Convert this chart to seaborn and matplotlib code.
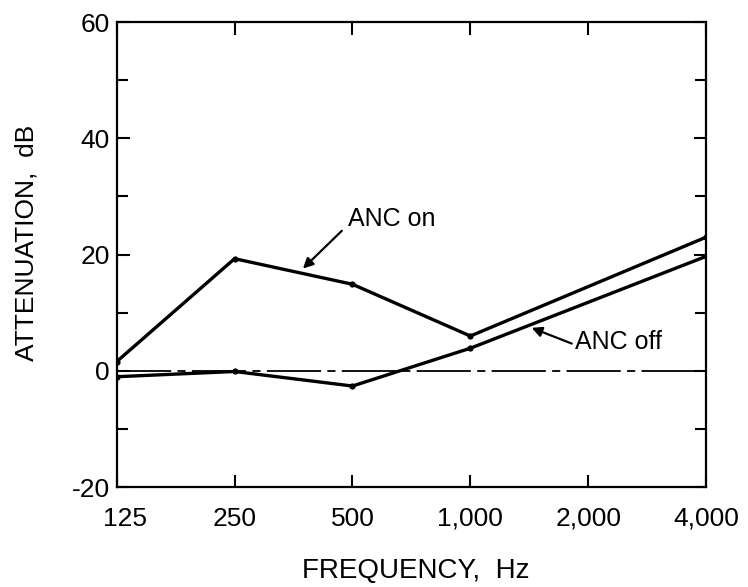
import matplotlib
matplotlib.use("Agg")
import matplotlib.pyplot as plt
import matplotlib.transforms as mtransforms
import seaborn as sns
import pandas as pd
import numpy as np

freqs = [125, 250, 500, 1000, 2000, 4000]
freq_labels = ["125", "250", "500", "1,000", "2,000", "4,000"]
anc_on_freqs = [125, 250, 500, 1000, 4000]
anc_on = [1.6, 19.3, 14.9, 6.0, 23.0]
anc_off_freqs = [125, 250, 500, 1000, 4000]
anc_off = [-1.0, -0.1, -2.6, 3.9, 19.7]

sns.set_theme(style="white")
plt.rcParams['font.family'] = ['Liberation Sans', 'DejaVu Sans']

df = pd.concat([
    pd.DataFrame({"freq": anc_on_freqs, "att": anc_on, "cond": "ANC on"}),
    pd.DataFrame({"freq": anc_off_freqs, "att": anc_off, "cond": "ANC off"}),
])

fig = plt.figure(figsize=(7.48, 5.87), dpi=100)
ax = fig.add_axes([0.156, 0.170, 0.788, 0.7925])

sns.lineplot(data=df, x="freq", y="att", units="cond", estimator=None,
             color="black", linewidth=2.4, marker="o", markersize=4.5,
             markeredgewidth=0, ax=ax, legend=False)

ax.set_xscale("log", base=2)
ax.set_xlim(125, 4000)
ax.set_ylim(-20, 60)
ax.axhline(0, color="black", linewidth=1.3, dashes=(30, 3.5, 4.5, 3.5), zorder=1)

ax.set_xticks(freqs)
ax.set_xticklabels(freq_labels)
ax.xaxis.set_minor_locator(matplotlib.ticker.NullLocator())
ax.set_yticks([-20, 0, 20, 40, 60])
ax.set_yticks(np.arange(-20, 61, 10), minor=True)
ax.set_yticklabels(["-20", "0", "20", "40", "60"])
ax.tick_params(axis="both", which="both", direction="in",
               top=True, right=True, bottom=True, left=True,
               labelsize=19, colors="black", width=1.5)
ax.tick_params(axis="both", which="major", length=9)
ax.tick_params(axis="x", which="major", pad=14)
ax.tick_params(axis="y", which="major", pad=5)
ax.tick_params(axis="y", which="minor", length=8)

first = ax.get_xticklabels()[0]
first.set_horizontalalignment("left")
first.set_transform(first.get_transform() +
                    mtransforms.ScaledTranslation(-14 / 100, 0, fig.dpi_scale_trans))

for s in ax.spines.values():
    s.set_color("black")
    s.set_linewidth(1.6)

ax.set_xlabel("FREQUENCY,  Hz", fontsize=20, color="black")
ax.set_ylabel("ATTENUATION,  dB", fontsize=19, color="black")
ax.xaxis.set_label_coords(0.508, -0.153)
ax.yaxis.set_label_coords(-0.133, 0.525)

def fx(idx):
    return 125 * 2 ** idx

arrow = dict(arrowstyle="-|>", color="black", lw=1.6,
             shrinkA=0, shrinkB=0, mutation_scale=15)
ax.annotate("", xy=(fx(1.58), 17.6), xytext=(fx(1.91), 24.1), arrowprops=arrow)
ax.text(fx(1.96), 26.2, "ANC on", fontsize=18, va="center", ha="left", color="black")
ax.annotate("", xy=(fx(3.52), 7.4), xytext=(fx(3.86), 4.7), arrowprops=arrow)
ax.text(fx(3.89), 5.0, "ANC off", fontsize=18, va="center", ha="left", color="black")

fig.savefig("out.png", dpi=100)
